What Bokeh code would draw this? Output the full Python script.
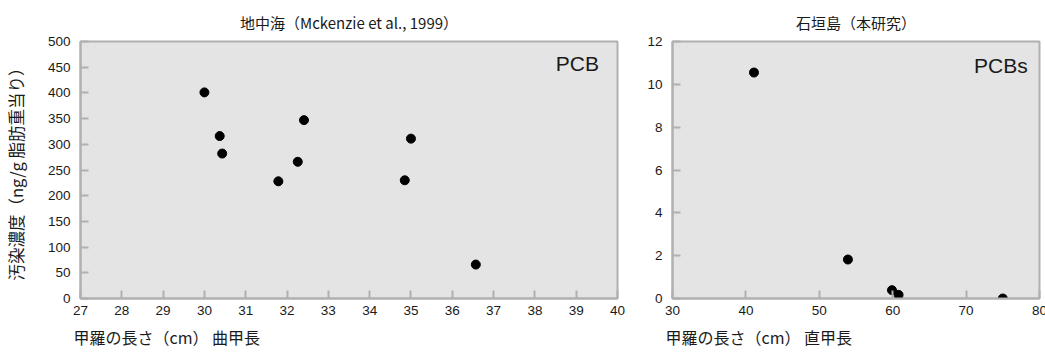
from bokeh.plotting import figure
from bokeh.layouts import row
from bokeh.models import Title, Label, FixedTicker, Range1d
from bokeh.embed import file_html
from bokeh.resources import INLINE

# Left panel: Mediterranean (Mckenzie et al., 1999)
med_title = "地中海（Mckenzie et al., 1999）"
med_length = [30.0, 30.37, 30.43, 31.79, 32.26, 32.41, 34.85, 35.0, 36.57]
med_pcb = [401, 316, 282, 228, 266, 347, 230, 311, 66]
med_xticks = list(range(27, 41))
med_yticks = list(range(0, 501, 50))

# Right panel: Ishigaki (this study)
ish_title = "石垣島（本研究）"
ish_length = [41.1, 53.9, 59.9, 60.8, 75.0]
ish_pcb = [10.55, 1.82, 0.39, 0.17, 0.0]
ish_xticks = list(range(30, 81, 10))
ish_yticks = list(range(0, 13, 2))

JP = "Noto Sans CJK JP"
LAT = "Liberation Sans"
BG = "#e4e4e4"
OUT = "#b0b0b0"
TXT = "#1a1a1a"


def style(p, xticks, yticks):
    p.background_fill_color = BG
    p.border_fill_color = "white"
    p.outline_line_color = OUT
    p.outline_line_width = 2
    p.xgrid.visible = False
    p.ygrid.visible = False
    for ax in (p.xaxis[0], p.yaxis[0]):
        ax.axis_line_color = OUT
        ax.axis_line_width = 2
        ax.major_tick_line_color = OUT
        ax.major_tick_line_width = 2
        ax.major_tick_in = 8
        ax.major_tick_out = 0
        ax.minor_tick_line_color = None
        ax.major_label_text_font = LAT
        ax.major_label_text_font_size = "13.5px"
        ax.major_label_text_color = TXT
    p.xaxis[0].ticker = FixedTicker(ticks=xticks)
    p.yaxis[0].ticker = FixedTicker(ticks=yticks)
    p.xaxis[0].major_label_standoff = 7
    p.yaxis[0].major_label_standoff = 10
    p.title.text_font = JP
    p.title.text_font_size = "15px"
    p.title.text_font_style = "normal"
    p.title.align = "center"
    p.title.text_color = TXT
    p.title.standoff = 18


def xlabel(p, text):
    p.add_layout(Title(text=text, align="left", text_font=JP,
                       text_font_size="16px", text_font_style="normal",
                       text_color=TXT, standoff=10, offset=-7), "below")


left = figure(frame_width=537, frame_height=257, width=623, height=352,
              min_border_left=76, min_border_right=10, min_border_top=40,
              min_border_bottom=55, title=med_title,
              x_range=Range1d(27, 40), y_range=Range1d(0, 500),
              output_backend="svg", toolbar_location=None)
style(left, med_xticks, med_yticks)
left.scatter(med_length, med_pcb, size=9, color="black")
left.yaxis[0].axis_label = "汚染濃度（ng/g 脂肪重当り）"
left.yaxis[0].axis_label_text_font = JP
left.yaxis[0].axis_label_text_font_size = "16.5px"
left.yaxis[0].axis_label_text_font_style = "normal"
left.yaxis[0].axis_label_text_color = TXT
left.yaxis[0].axis_label_standoff = 17
left.add_layout(Label(x=39.55, y=457, text="PCB", text_align="right",
                      text_baseline="middle", text_font=LAT,
                      text_font_size="21px", text_color=TXT))
xlabel(left, "甲羅の長さ（cm） 曲甲長")

right = figure(frame_width=367, frame_height=257, width=422, height=352,
               min_border_left=45, min_border_right=10, min_border_top=40,
               min_border_bottom=55, title=ish_title,
               x_range=Range1d(30, 80), y_range=Range1d(0, 12),
               output_backend="svg", toolbar_location=None)
style(right, ish_xticks, ish_yticks)
right.scatter(ish_length, ish_pcb, size=9, color="black")
right.add_layout(Label(x=78.4, y=10.9, text="PCBs", text_align="right",
                       text_baseline="middle", text_font=LAT,
                       text_font_size="21px", text_color=TXT))
xlabel(right, "甲羅の長さ（cm） 直甲長")

layout = row(left, right, spacing=0)
open("out.html", "w").write(file_html(layout, INLINE))
